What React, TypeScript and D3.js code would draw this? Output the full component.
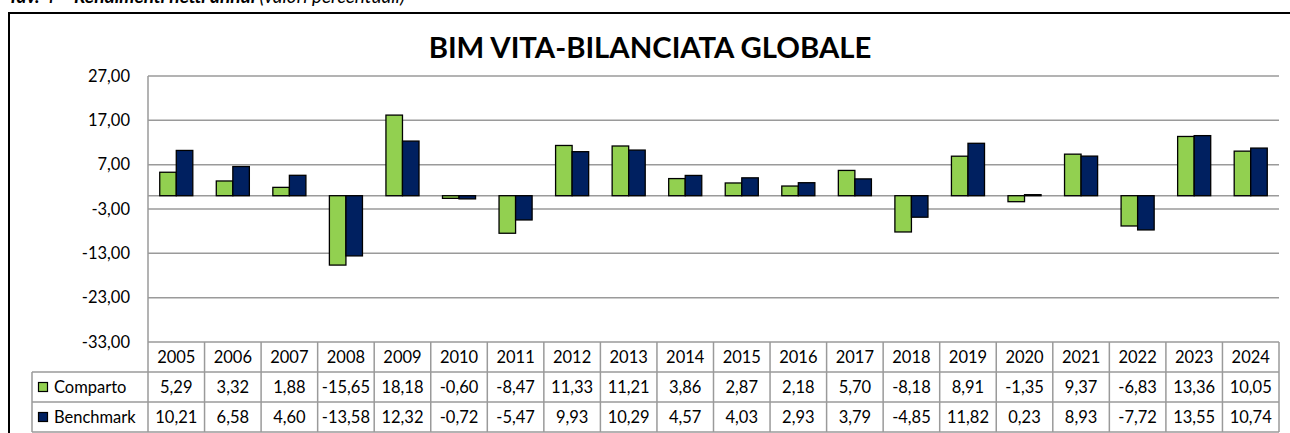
import React from "react";
import * as d3 from "d3";

const years = ["2005","2006","2007","2008","2009","2010","2011","2012","2013","2014","2015","2016","2017","2018","2019","2020","2021","2022","2023","2024"];
const comparto = [5.29,3.32,1.88,-15.65,18.18,-0.60,-8.47,11.33,11.21,3.86,2.87,2.18,5.70,-8.18,8.91,-1.35,9.37,-6.83,13.36,10.05];
const benchmark = [10.21,6.58,4.60,-13.58,12.32,-0.72,-5.47,9.93,10.29,4.57,4.03,2.93,3.79,-4.85,11.82,0.23,8.93,-7.72,13.55,10.74];
const yTicks = [27,17,7,-3,-13,-23,-33];
const seriesNames = ["Comparto","Benchmark"];
const seriesColors = ["#92D050","#002060"];
const title = "BIM VITA-BILANCIATA GLOBALE";

const W = 1290, H = 433;
const left = 148, right = 1279, top = 76, bottom = 342;
const rowH = 30;
const legendLeft = 32;
const grid = "#9a9a9a";
const font = "Lato, 'Open Sans', sans-serif";
const fmt = (v: number) => v.toFixed(2).replace(".", ",");

export default function App() {
  const x = d3.scaleBand<string>().domain(years).range([left, right]).paddingInner(0).paddingOuter(0);
  const x1 = d3.scaleBand<string>().domain(["c","b"]).range([0, x.bandwidth()]).paddingInner(0).paddingOuter(0.71);
  const y = d3.scaleLinear().domain([-33, 27]).range([bottom, top]);
  const y0 = y(0);
  const series = [comparto, benchmark];
  const keys = ["c","b"];

  return (
    <svg width={W} height={H} style={{ position: "absolute", left: 0, top: 0, background: "#fff" }}>
      <rect x={0} y={0} width={W} height={H} fill="#fff" />
      <text x={8} y={3} fontFamily={font} fontSize={19} fontStyle="italic" fill="#000">
        <tspan fontWeight="bold">Tav. 4 – Rendimenti netti annui </tspan>
        <tspan>(valori percentuali)</tspan>
      </text>
      <rect x={9} y={13} width={W + 10} height={H + 10} fill="#fff" stroke="#000" strokeWidth={2} />
      <text x={650} y={58} textAnchor="middle" fontFamily={font} fontWeight="bold" fontSize={29.3} fill="#000">{title}</text>

      {yTicks.map((t) => (
        <g key={t}>
          <line x1={left} x2={right} y1={y(t)} y2={y(t)} stroke={grid} strokeWidth={1.5} />
          <text x={130} y={y(t)} dy="0.35em" textAnchor="end" fontFamily={font} fontSize={16.5} fill="#000">{fmt(t)}</text>
        </g>
      ))}
      <line x1={left} x2={right} y1={y0} y2={y0} stroke={grid} strokeWidth={1.5} />

      {years.map((yr, i) => (
        <g key={yr}>
          {series.map((s, j) => {
            const v = s[i];
            const bx = (x(yr) as number) + (x1(keys[j]) as number);
            return (
              <rect key={j} x={bx} y={Math.min(y(v), y0)} width={x1.bandwidth()} height={Math.abs(y(v) - y0)}
                fill={seriesColors[j]} stroke="#000" strokeWidth={1.3} />
            );
          })}
        </g>
      ))}

      {/* table */}
      <line x1={left} x2={left} y1={top} y2={bottom + rowH * 3} stroke={grid} strokeWidth={1.5} />
      {years.map((yr) => (
        <line key={yr} x1={(x(yr) as number) + x.bandwidth()} x2={(x(yr) as number) + x.bandwidth()} y1={bottom} y2={bottom + rowH * 3} stroke={grid} strokeWidth={1.5} />
      ))}
      {[1, 2, 3].map((r) => (
        <line key={r} x1={legendLeft} x2={right} y1={bottom + rowH * r} y2={bottom + rowH * r} stroke={grid} strokeWidth={1.5} />
      ))}
      <line x1={legendLeft} x2={legendLeft} y1={bottom + rowH} y2={bottom + rowH * 3} stroke={grid} strokeWidth={1.5} />
      {years.map((yr) => (
        <text key={yr} x={(x(yr) as number) + x.bandwidth() / 2} y={bottom + rowH / 2} dy="0.35em" textAnchor="middle" fontFamily={font} fontSize={16.5} fill="#000">{yr}</text>
      ))}
      {series.map((s, j) => (
        <g key={j}>
          <rect x={38.5} y={bottom + rowH * (j + 1) + 10.5} width={9} height={9} fill={seriesColors[j]} stroke="#000" strokeWidth={1.2} />
          <text x={54} y={bottom + rowH * (j + 1.5)} dy="0.35em" fontFamily={font} fontSize={16.5} fill="#000">{seriesNames[j]}</text>
          {years.map((yr, i) => (
            <text key={yr} x={(x(yr) as number) + x.bandwidth() / 2} y={bottom + rowH * (j + 1.5)} dy="0.35em" textAnchor="middle" fontFamily={font} fontSize={16.5} fill="#000">{fmt(s[i])}</text>
          ))}
        </g>
      ))}
    </svg>
  );
}
